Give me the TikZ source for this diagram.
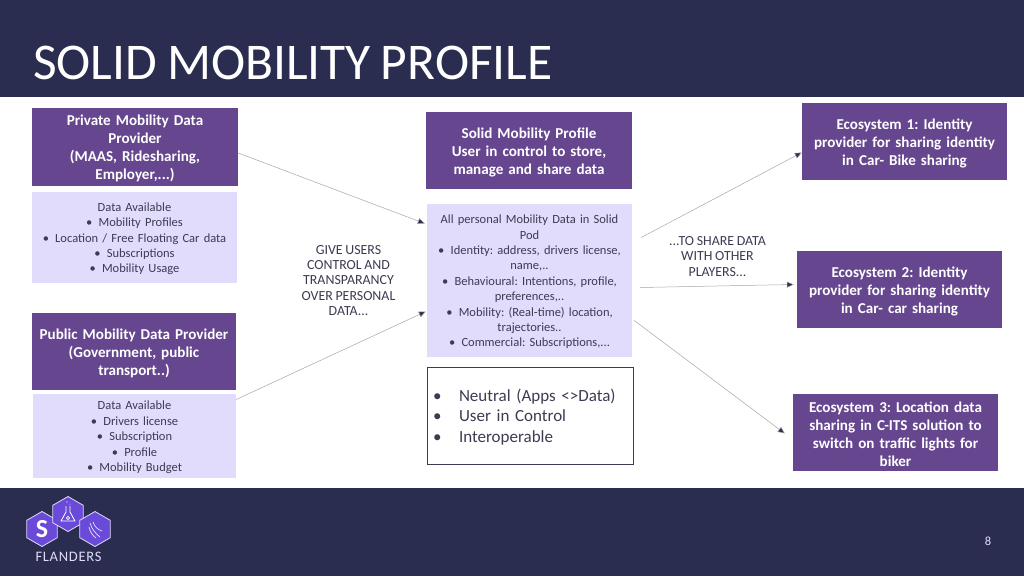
\documentclass[tikz,border=0pt]{standalone}
\usepackage{fontspec}
\setmainfont{Carlito}[WordSpace=0.85]
\usetikzlibrary{arrows.meta}
\usetikzlibrary{shapes.geometric}
\definecolor{navy}{HTML}{2A2D4F}
\definecolor{plum}{HTML}{66478F}
\definecolor{lilac}{HTML}{E1DCFB}
\definecolor{ink}{HTML}{3B3B52}
\definecolor{violet}{HTML}{6A4AD8}
\frenchspacing
\newcommand{\bul}{\textbullet\enspace}
\newcommand{\blt}{\makebox[26pt][l]{\textbullet}}
\tikzset{
  nudge/.style={execute at begin node={\rule{0pt}{0.92em}}},
  head/.style={fill=plum, text=white, font=\fontsize{15.1}{18}\selectfont\bfseries, align=center, inner sep=0pt, text width=200, minimum width=205, minimum height=77, nudge},
  avail/.style={fill=lilac, text=ink, font=\fontsize{12.5}{15.4}\selectfont, align=center, inner sep=0pt, text width=200, minimum width=205, nudge},
  note/.style={text=ink, font=\fontsize{13.9}{15.4}\selectfont, align=center, inner sep=0pt},
  flow/.style={draw=black!35, line width=0.5pt, -{Triangle[length=7pt, width=6pt, fill=navy]}},
  hex/.style={regular polygon, regular polygon sides=6, shape border rotate=30, minimum size=35, inner sep=0pt, fill=violet, draw=lilac, line width=0.8pt}
}
\begin{document}
\begin{tikzpicture}[x=1pt, y=-1pt]
\useasboundingbox (0, 0) rectangle (1024, 576);
\fill[navy] (0, 0) rectangle (1024, 97);
\fill[navy] (0, 488) rectangle (1024, 576);
\node (title) [anchor=west, text=white, inner sep=0pt, font=\fontsize{51.5}{54}\selectfont] at (33, 63) {SOLID MOBILITY PROFILE};

\node (private) [head, minimum width=206, minimum height=78] at (135, 147) {Private Mobility Data\\Provider\\(MAAS, Ridesharing,\\Employer,...)};
\node (availa) [avail, minimum height=91] at (134.5, 237.5) {Data Available\\\bul Mobility Profiles\\\bul Location / Free Floating Car data\\\bul Subscriptions\\\bul Mobility Usage};
\node (public) [head, minimum width=204] at (134, 351.5) {Public Mobility Data Provider\\(Government, public\\transport..)};
\node (availb) [avail, minimum width=203, minimum height=84] at (134.5, 436) {Data Available\\\bul Drivers license\\\bul Subscription\\\bul Profile\\\bul Mobility Budget};

\node (solid) [head, minimum width=206] at (529, 150.5) {Solid Mobility Profile\\User in control to store,\\manage and share data};
\node (pod) [avail, minimum height=153] at (529.5, 280.5) {All personal Mobility Data in Solid\\Pod\\\bul Identity: address, drivers license,\\name,..\\\bul Behavioural: Intentions, profile,\\preferences,..\\\bul Mobility: (Real-time) location,\\trajectories..\\\bul Commercial: Subscriptions,...};
\node (neutral) [draw=ink, line width=0.6pt, text=ink, inner sep=0pt, minimum width=206, minimum height=97, align=left, font=\fontsize{17}{20.4}\selectfont, text width=194, nudge] at (530, 415.5) {\blt Neutral (Apps <>Data)\\\blt User in Control\\\blt Interoperable};

\node (ecoa) [head] at (904.5, 141.5) {Ecosystem 1: Identity\\provider for sharing identity\\in Car- Bike sharing};
\node (ecob) [head] at (899.5, 289.5) {Ecosystem 2: Identity\\provider for sharing identity\\in Car- car sharing};
\node (ecoc) [head] at (895.5, 432.5) {Ecosystem 3: Location data\\sharing in C-ITS solution to\\switch on traffic lights for\\biker};

\node (give) [note] at (348.5, 280.5) {GIVE USERS\\CONTROL AND\\TRANSPARANCY\\OVER PERSONAL\\DATA...};
\node (share) [note] at (717.5, 256.5) {...TO SHARE DATA\\WITH OTHER\\PLAYERS...};

\draw[flow] ([yshift=-6]private.east) -- ([xshift=-2, yshift=57]pod.west);
\draw[flow] ([yshift=-48]public.east) -- ([xshift=-1, yshift=-31]pod.west);
\draw[flow] ([xshift=9, yshift=43]pod.east) -- ([yshift=-11]ecoa.west);
\draw[flow] ([xshift=8, yshift=-7]pod.east) -- ([xshift=-3, yshift=5]ecob.west);
\draw[flow] ([xshift=2, yshift=-40]pod.east) -- ([xshift=-8, yshift=-1]ecoc.west);

\node (hexa) [hex] at (42, 529) {};
\node (hexb) [hex] at (68, 514) {};
\node (hexc) [hex] at (95, 529) {};
\node (letter) [text=white, inner sep=0pt, font=\fontsize{26}{26}\selectfont\bfseries] at (42, 529) {S};
\draw[white, line width=0.8pt, line join=round] (66, 506) -- (66, 512) -- (61, 521) -- (75, 521) -- (70, 512) -- (70, 506);
\draw[white, line width=0.8pt] (68, 518) circle (1.6);
\fill[white] (67, 502) circle (0.6) (70, 504) circle (0.5);
\draw[white!85!violet, line width=0.7pt] (90, 523) .. controls (92, 529) and (94, 532) .. (100, 537) (93, 522) .. controls (95, 527) and (97, 529) .. (102, 531) (89, 527) .. controls (90, 532) and (93, 536) .. (96, 538);
\node (brand) [text=lilac, inner sep=0pt, font=\fontsize{14.5}{16}\selectfont\addfontfeatures{LetterSpace=5}] at (68.5, 557) {FLANDERS};
\node (page) [text=lilac, inner sep=0pt, font=\fontsize{12.5}{14}\selectfont] at (988, 541.5) {8};
\end{tikzpicture}
\end{document}
